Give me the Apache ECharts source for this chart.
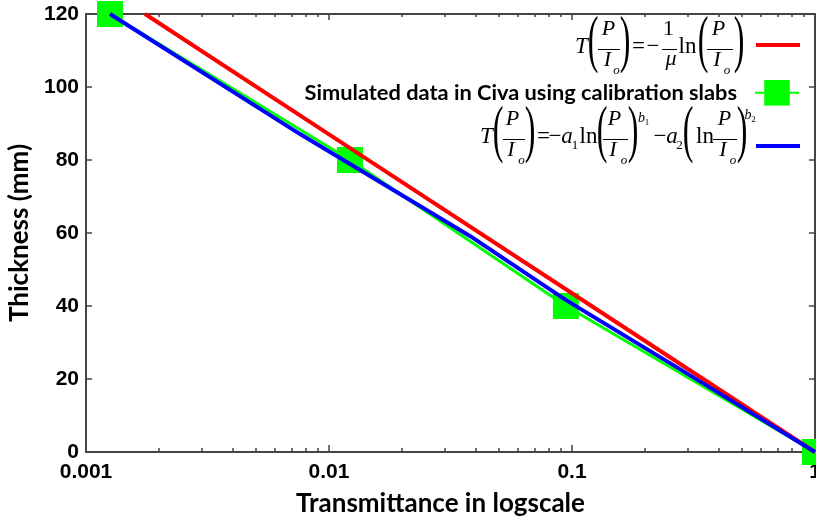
<!DOCTYPE html>
<html><head><meta charset="utf-8">
<script src="https://cdn.jsdelivr.net/npm/echarts@6/dist/echarts.min.js"></script>
<style>html,body{margin:0;padding:0;background:#fff}#c{width:816px;height:521px}</style>
</head><body><div id="c"></div>
<script>
// ---- data ----
const seriesNames = [
  'T(P/Io) = -(1/μ) ln(P/Io)',
  'Simulated data in Civa using calibration slabs',
  'T(P/Io) = -a1 ln(P/Io)^b1 - a2 (ln P/Io)^b2'
];
const xMajorTicks = [0.001, 0.01, 0.1, 1];
const xMinorTicks = [0.002,0.003,0.004,0.005,0.006,0.007,0.008,0.009,
                     0.02,0.03,0.04,0.05,0.06,0.07,0.08,0.09,
                     0.2,0.3,0.4,0.5,0.6,0.7,0.8,0.9];
const xTickLabels = ['0.001', '0.01', '0.1', '1'];
const yTickLabels = ['0','20','40','60','80','100','120'];
const beerTransmittance = [0.00175, 0.01, 0.1, 1];
const beerThickness = [120, 87, 43.5, 0];
const simTransmittance = [0.001255, 0.0122, 0.0944, 1];
const simThickness = [120, 80, 40, 0];
const fitTransmittance = [0.001255, 0.0076, 0.038, 0.0945, 0.278, 1];
const fitThickness = [120, 87.1, 59.2, 41.6, 22.7, 0];

const zip = (a, b) => a.map((v, i) => [v, b[i]]);

// ---- formula drawing (legend labels) ----
const SERIF = '"Liberation Serif","DejaVu Serif",serif';
const K = 0.34;
function txt(t, x, base, size, italic) {
  return { type: 'text', x: x, y: base - K * size, z: 100,
    style: { text: t, font: (italic ? 'italic ' : '') + size + 'px ' + SERIF,
      fill: '#000', align: 'center', verticalAlign: 'middle' } };
}
function paren(t, x, c) {
  return { type: 'text', x: x, y: c + 16 - K * 64, scaleX: 0.5, z: 100,
    style: { text: t, font: '64px ' + SERIF, fill: '#000', align: 'center', verticalAlign: 'middle' } };
}
function bar(x1, x2, c) {
  return { type: 'line', z: 100, shape: { x1: x1, y1: c + 0.5, x2: x2, y2: c + 0.5 },
    style: { stroke: '#000', lineWidth: 1 } };
}
function frac(xP, xI, xo, x1, x2, c) {
  return [txt('P', xP, c - 12, 22, true), bar(x1, x2, c),
          txt('I', xI, c + 19, 22, true), txt('o', xo, c + 26, 13, true)];
}
function formula1(c) {
  return [].concat(
    [txt('T', 581.5, c + 6, 23, true), paren('(', 593, c)],
    frac(608.5, 607.5, 616.5, 598, 620, c),
    [paren(')', 625, c), txt('=', 638.5, c + 6, 23, false), txt('\u2212', 653, c + 6, 23, false),
     txt('1', 668.5, c - 12, 22, false), bar(662, 677, c), txt('\u03bc', 671, c + 18, 22, true),
     txt('ln', 687.5, c + 6, 23, false), paren('(', 703, c)],
    frac(718.5, 717, 727, 707, 733, c),
    [paren(')', 739, c)]
  );
}
function formula3(c) {
  return [].concat(
    [txt('T', 486.5, c + 6, 23, true), paren('(', 498, c)],
    frac(512.5, 511, 521.5, 503, 525, c),
    [paren(')', 530, c), txt('=', 543.5, c + 6, 23, false), txt('\u2212', 555, c + 6, 23, false),
     txt('a', 567, c + 6, 23, true), txt('1', 575, c + 11, 13, false),
     txt('ln', 588.5, c + 6, 23, false), paren('(', 602, c)],
    frac(614.5, 613, 624, 603, 628, c),
    [paren(')', 633, c), txt('b', 641.5, c - 16, 14, true), txt('1', 647, c - 13, 9, false),
     txt('\u2212', 660, c + 6, 23, false), txt('a', 672, c + 6, 23, true), txt('2', 679.5, c + 11, 13, false),
     paren('(', 688, c), txt('ln', 705, c + 6, 23, false)],
    frac(724.5, 723, 733, 713, 737, c),
    [paren(')', 742, c), txt('b', 748, c - 19, 14, true), txt('2', 753.5, c - 16, 9, false)]
  );
}

const AX = '#444';
const labelFont = { fontFamily: '"Liberation Sans", Arial, sans-serif', fontWeight: 'bold', fontSize: 21, color: '#000' };
const titleFont = { fontFamily: 'Lato, "Open Sans", sans-serif', fontWeight: 'bold', fontSize: 26, color: '#000' };

function logAxis(pos, major, showLabel, extra) {
  return Object.assign({
    type: 'log', logBase: 10, min: 0.001, max: 1, position: pos,
    axisLine: { show: major, onZero: false, lineStyle: { color: AX, width: 2 } },
    axisTick: major
      ? { show: true, inside: true, length: pos === 'top' ? 6 : 7, lineStyle: { color: AX, width: 1.5 } }
      : { show: true, inside: true, length: pos === 'top' ? 3 : 4, customValues: xMinorTicks, lineStyle: { color: AX, width: 1.5 } },
    axisLabel: showLabel
      ? Object.assign({ show: true, margin: 10, formatter: v => xTickLabels[xMajorTicks.findIndex(t => Math.abs(Math.log10(t) - Math.log10(v)) < 1e-6)] || '' }, labelFont)
      : { show: false },
    splitLine: { show: false }, minorTick: { show: false }
  }, extra || {});
}

const chart = echarts.init(document.getElementById('c'), null, { renderer: 'canvas' });
chart.setOption({
  animation: false,
  backgroundColor: '#fff',
  grid: { left: 86, right: 1, top: 14, bottom: 69, containLabel: false, outerBoundsMode: 'none' },
  xAxis: [
    logAxis('bottom', true, true, { name: 'Transmittance in logscale', nameLocation: 'middle', nameGap: 39,
      nameTextStyle: Object.assign({ padding: [0, 20, 0, 0] }, titleFont) }),
    logAxis('top', true, false),
    logAxis('bottom', false, false),
    logAxis('top', false, false)
  ],
  yAxis: [
    { type: 'value', min: 0, max: 120, interval: 20, position: 'left',
      axisLine: { show: true, onZero: false, lineStyle: { color: AX, width: 2 } },
      axisTick: { show: true, inside: true, length: 6, lineStyle: { color: AX, width: 1.5 } },
      axisLabel: Object.assign({ margin: 7, formatter: v => yTickLabels[Math.round(v / 20)] }, labelFont),
      splitLine: { show: false },
      name: 'Thickness (mm)', nameLocation: 'middle', nameGap: 41, nameTextStyle: titleFont },
    { type: 'value', min: 0, max: 120, interval: 20, position: 'right',
      axisLine: { show: true, onZero: false, lineStyle: { color: AX, width: 2 } },
      axisTick: { show: true, inside: true, length: 6, lineStyle: { color: AX, width: 1.5 } },
      axisLabel: { show: false }, splitLine: { show: false } }
  ],
  legend: [
    { data: [{ name: seriesNames[0], icon: 'rect' }], right: 16, top: 43, align: 'right', itemWidth: 44, itemHeight: 4, padding: 0,
      selectedMode: false, formatter: () => '' },
    { data: [seriesNames[1]], right: 16, top: 80, align: 'right', itemWidth: 44, itemHeight: 32, padding: 0,
      selectedMode: false,
      textStyle: { fontFamily: 'Lato, "Open Sans", sans-serif', fontWeight: 'bold', fontSize: 21.8, color: '#000', padding: [4, 13, 0, 0] } },
    { data: [{ name: seriesNames[2], icon: 'rect' }], right: 16, top: 144, align: 'right', itemWidth: 44, itemHeight: 4, padding: 0,
      selectedMode: false, formatter: () => '' }
  ],
  graphic: { elements: [].concat(formula1(49), formula3(139)) },
  series: [
    { name: seriesNames[1], type: 'line', data: zip(simTransmittance, simThickness),
      symbol: 'rect', symbolSize: 26, clip: false, z: 2,
      lineStyle: { color: '#00ff00', width: 3 }, itemStyle: { color: '#00ff00' }, emphasis: { disabled: true } },
    { name: seriesNames[0], type: 'line', data: zip(beerTransmittance, beerThickness),
      symbol: 'none', z: 3, lineStyle: { color: '#ff0000', width: 4 }, itemStyle: { color: '#ff0000' }, emphasis: { disabled: true } },
    { name: seriesNames[2], type: 'line', data: zip(fitTransmittance, fitThickness),
      symbol: 'none', z: 4, lineStyle: { color: '#0000ff', width: 4 }, itemStyle: { color: '#0000ff' }, emphasis: { disabled: true } }
  ]
});
</script></body></html>
